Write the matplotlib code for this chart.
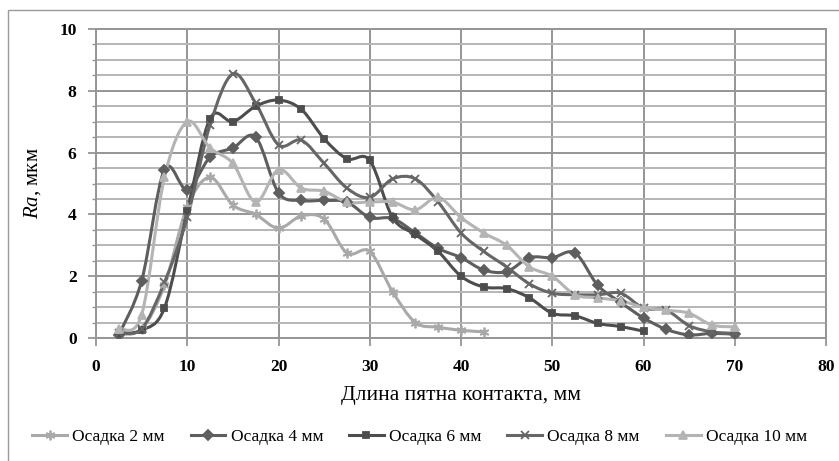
import matplotlib
matplotlib.use("Agg")
import matplotlib.pyplot as plt
from matplotlib.path import Path
from matplotlib.patches import PathPatch, Rectangle
from matplotlib.lines import Line2D
from matplotlib.ticker import MultipleLocator

plt.rcParams['font.family'] = ['Liberation Serif', 'DejaVu Serif']
plt.rcParams['mathtext.fontset'] = 'custom'
plt.rcParams['mathtext.it'] = 'Liberation Serif:italic'

# x positions, mm
x_all = [2.5, 5, 7.5, 10, 12.5, 15, 17.5, 20, 22.5, 25, 27.5, 30, 32.5, 35,
         37.5, 40, 42.5, 45, 47.5, 50, 52.5, 55, 57.5, 60, 62.5, 65, 67.5, 70]

ra_2 = [0.2, 0.3, 1.7, 4.25, 5.2, 4.3, 4.0, 3.55, 3.95, 3.85, 2.75, 2.8, 1.5,
        0.5, 0.35, 0.25, 0.2]
ra_4 = [0.1, 1.85, 5.45, 4.8, 5.85, 6.15, 6.5, 4.7, 4.45, 4.45, 4.4, 3.9, 3.87,
        3.4, 2.9, 2.6, 2.2, 2.15, 2.6, 2.6, 2.75, 1.7, 1.15, 0.65, 0.28, 0.1,
        0.15, 0.12]
ra_6 = [0.15, 0.25, 0.97, 4.1, 7.1, 7.0, 7.5, 7.7, 7.4, 6.45, 5.8, 5.75, 3.9,
        3.35, 2.8, 2.0, 1.65, 1.6, 1.3, 0.8, 0.72, 0.47, 0.37, 0.22]
ra_8 = [0.15, 0.3, 1.8, 3.9, 6.9, 8.55, 7.6, 6.25, 6.4, 5.65, 4.85, 4.55, 5.15,
        5.15, 4.4, 3.4, 2.8, 2.3, 1.75, 1.45, 1.4, 1.4, 1.45, 0.97, 0.9, 0.4,
        0.2, 0.15]
ra_10 = [0.3, 0.75, 5.2, 7.0, 6.15, 5.65, 4.4, 5.45, 4.85, 4.75, 4.4, 4.4, 4.4,
         4.15, 4.55, 3.9, 3.4, 3.0, 2.3, 2.0, 1.4, 1.3, 1.2, 1.0, 0.9, 0.8,
         0.42, 0.36]

labels = ['Осадка 2 мм', 'Осадка 4 мм', 'Осадка 6 мм', 'Осадка 8 мм', 'Осадка 10 мм']
series = [ra_2, ra_4, ra_6, ra_8, ra_10]
colors = ['#a9a9a9', '#5e5e5e', '#4d4d4d', '#666666', '#b4b4b4']
markers = [(6, 2, 0), 'D', 's', 'x', '^']
msizes = [7, 5, 5, 6, 6]


def smooth_path(xs, ys):
    # excel-style smoothed line: bezier segments through the points
    verts = [(xs[0], ys[0])]
    codes = [Path.MOVETO]
    n = len(xs)
    for i in range(n - 1):
        x0, y0 = xs[max(i - 1, 0)], ys[max(i - 1, 0)]
        x1, y1 = xs[i], ys[i]
        x2, y2 = xs[i + 1], ys[i + 1]
        x3, y3 = xs[min(i + 2, n - 1)], ys[min(i + 2, n - 1)]
        c1 = (x1 + (x2 - x0) / 6, y1 + (y2 - y0) / 6)
        c2 = (x2 - (x3 - x1) / 6, y2 - (y3 - y1) / 6)
        verts += [c1, c2, (x2, y2)]
        codes += [Path.CURVE4] * 3
    return Path(verts, codes)


fig = plt.figure(figsize=(8.39, 4.61), dpi=100)
ax = fig.add_axes([96 / 839, 1 - 338 / 461, 730 / 839, 309 / 461])

# outer chart frame
fig.patches.append(Rectangle((8 / 839, -0.1), 1.1, 1 - 10 / 461 + 0.1,
                             transform=fig.transFigure, fill=False,
                             edgecolor='#9a9a9a', lw=1.0))

handles = []
for ys, lab, c, m, ms in zip(series, labels, colors, markers, msizes):
    xs = x_all[:len(ys)]
    ax.add_patch(PathPatch(smooth_path(xs, ys), fill=False, edgecolor=c,
                           lw=2.2, zorder=3))
    ax.plot(xs, ys, linestyle='none', marker=m, markersize=ms, color=c,
            markeredgecolor=c, markeredgewidth=1.3, zorder=4)
    handles.append(Line2D([], [], color=c, lw=2.2, marker=m, markersize=ms,
                          markeredgecolor=c, markeredgewidth=1.3, label=lab))

ax.set_xlim(0, 80)
ax.set_ylim(0, 10)
ax.xaxis.set_major_locator(MultipleLocator(10))
ax.yaxis.set_major_locator(MultipleLocator(2))
ax.yaxis.set_minor_locator(MultipleLocator(0.5))

ax.grid(True, which='major', axis='x', color='#959595', lw=1.4)
ax.grid(True, which='major', axis='y', color='#959595', lw=1.4)
ax.grid(True, which='minor', axis='y', color='#b5b5b5', lw=1.4)
ax.set_axisbelow(True)

for sp in ax.spines.values():
    sp.set_color('#959595')
    sp.set_linewidth(1.4)

ax.tick_params(axis='both', which='major', direction='out', length=6,
               color='#959595', width=1.3, labelsize=12.5)
ax.tick_params(axis='x', which='major', pad=9)
ax.tick_params(axis='y', which='major', pad=8)
ax.tick_params(axis='y', which='minor', direction='out', length=3,
               color='#959595', width=1.0)
for t in ax.get_xticklabels() + ax.get_yticklabels():
    t.set_fontweight('bold')

ax.set_xlabel('Длина пятна контакта, мм', fontsize=15.5, labelpad=8)
ax.set_ylabel(r'$\mathit{Ra}$, мкм', fontsize=15, labelpad=12)

fig.legend(handles=handles, loc='center', bbox_to_anchor=(0.5, 1 - 437 / 461),
           ncol=5, frameon=False, fontsize=12.5, handlelength=2.0,
           columnspacing=1.5, handletextpad=0.3)

fig.savefig('out.png', dpi=100)
